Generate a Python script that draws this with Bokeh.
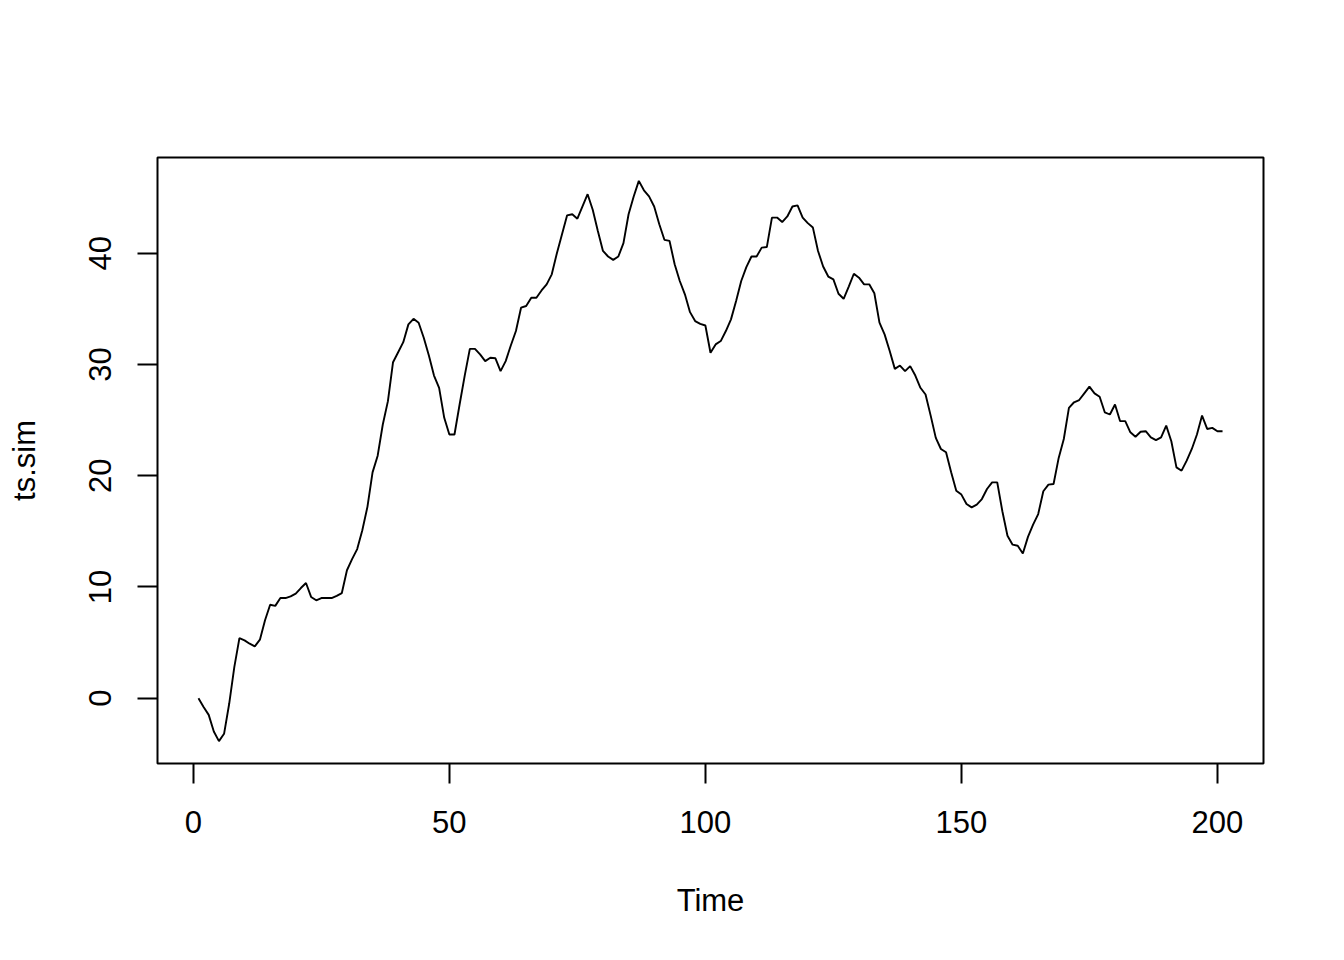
from bokeh.plotting import figure
from bokeh.models import Range1d, FixedTicker
from bokeh.embed import file_html
from bokeh.resources import INLINE

# simulated series (Time = 1..201)
time = list(range(1, 202))
ts_sim = [
    0.0, -0.8, -1.5, -3.0, -3.86, -3.2, -0.5, 2.8, 5.4, 5.2,
    4.9, 4.66, 5.26, 7.0, 8.4, 8.3, 9.0, 9.0, 9.15, 9.4,
    9.9, 10.35, 9.1, 8.8, 9.0, 9.0, 9.0, 9.2, 9.45, 11.5,
    12.5, 13.4, 15.1, 17.2, 20.3, 21.8, 24.6, 26.7, 30.2, 31.1,
    32.0, 33.6, 34.1, 33.75, 32.4, 30.8, 29.0, 27.9, 25.2, 23.7,
    23.7, 26.4, 29.0, 31.4, 31.4, 30.9, 30.3, 30.6, 30.55, 29.4,
    30.3, 31.7, 33.0, 35.1, 35.25, 36.0, 36.0, 36.65, 37.2, 38.1,
    40.0, 41.7, 43.4, 43.5, 43.1, 44.2, 45.3, 43.9, 42.0, 40.2,
    39.7, 39.4, 39.7, 40.9, 43.5, 45.1, 46.5, 45.65, 45.1, 44.2,
    42.6, 41.2, 41.1, 39.0, 37.5, 36.3, 34.7, 33.9, 33.65, 33.5,
    31.05, 31.8, 32.1, 33.0, 34.05, 35.7, 37.5, 38.75, 39.7, 39.7,
    40.5, 40.55, 43.2, 43.2, 42.8, 43.3, 44.2, 44.3, 43.2, 42.7,
    42.3, 40.2, 38.8, 37.9, 37.65, 36.35, 35.9, 37.0, 38.15, 37.8,
    37.2, 37.2, 36.4, 33.75, 32.7, 31.2, 29.6, 29.9, 29.4, 29.85,
    29.0, 27.9, 27.3, 25.4, 23.4, 22.4, 22.1, 20.3, 18.65, 18.3,
    17.45, 17.15, 17.4, 17.9, 18.8, 19.4, 19.4, 16.8, 14.6, 13.8,
    13.7, 13.0, 14.5, 15.6, 16.55, 18.6, 19.2, 19.25, 21.6, 23.3,
    26.1, 26.6, 26.8, 27.4, 28.0, 27.4, 27.1, 25.7, 25.5, 26.4,
    24.9, 24.9, 23.9, 23.5, 23.95, 24.0, 23.45, 23.2, 23.45, 24.5,
    23.1, 20.75, 20.45, 21.35, 22.4, 23.7, 25.4, 24.2, 24.3, 24.0,
    24.0,
]
x_ticks = [0, 50, 100, 150, 200]
y_ticks = [0, 10, 20, 30, 40]

FONT = "Liberation Sans"

p = figure(width=1328, height=944, output_backend="svg", toolbar_location=None,
           x_range=Range1d(-7.0, 209.0), y_range=Range1d(-5.87, 48.6),
           min_border_left=157, min_border_right=65,
           min_border_top=157, min_border_bottom=181)

p.line(time, ts_sim, line_color="black", line_width=1.9)

p.grid.visible = False
p.background_fill_color = "white"
p.border_fill_color = "white"
p.outline_line_color = "black"
p.outline_line_width = 2

# R style axes
for ax in (p.xaxis[0], p.yaxis[0]):
    ax.axis_line_color = None
    ax.major_tick_line_color = "black"
    ax.major_tick_line_width = 2
    ax.major_tick_out = 20
    ax.major_tick_in = 0
    ax.minor_tick_line_color = None
    ax.major_label_text_font = FONT
    ax.major_label_text_font_size = "31px"
    ax.major_label_text_color = "black"
    ax.axis_label_text_font = FONT
    ax.axis_label_text_font_size = "31px"
    ax.axis_label_text_font_style = "normal"
    ax.axis_label_text_color = "black"

p.xaxis.ticker = FixedTicker(ticks=x_ticks)
p.yaxis.ticker = FixedTicker(ticks=y_ticks)
p.xaxis.axis_label = "Time"
p.yaxis.axis_label = "ts.sim"
p.yaxis.major_label_orientation = "vertical"
p.xaxis.major_label_standoff = 27
p.xaxis.axis_label_standoff = 47
p.yaxis.major_label_standoff = 26
p.yaxis.axis_label_standoff = 45

open("out.html", "w").write(file_html(p, INLINE))
